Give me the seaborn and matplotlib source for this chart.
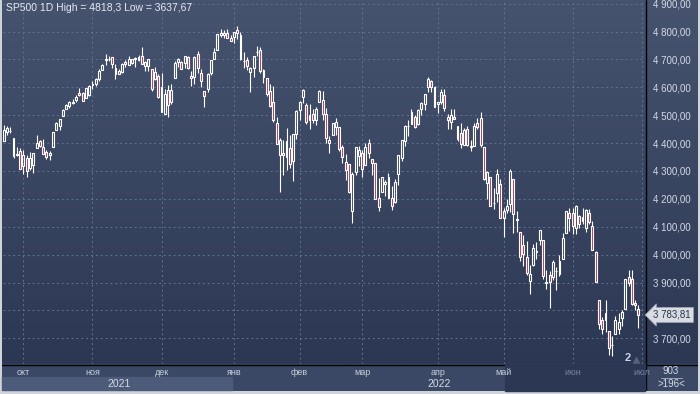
import matplotlib
matplotlib.use('Agg')
import matplotlib.pyplot as plt
import matplotlib.transforms as mtransforms
from matplotlib.colors import LinearSegmentedColormap
from matplotlib.patches import Rectangle
from matplotlib.ticker import MultipleLocator, FuncFormatter
import numpy as np
import pandas as pd
import seaborn as sns

# daily SP500 candles, 23.09.2021 - 30.06.2022
open_sep = [4406, 4438, 4442, 4419, 4362, 4371]
high_sep = [4465, 4463, 4457, 4419, 4385, 4382]
low_sep = [4406, 4430, 4436, 4346, 4355, 4306]
close_sep = [4448, 4455, 4443, 4352, 4359, 4307]

open_oct = [4317, 4348, 4310, 4320, 4384, 4407, 4385, 4368, 4358, 4386, 4447,
            4463, 4497, 4524, 4532, 4546, 4553, 4579, 4580, 4563, 4573]
high_oct = [4375, 4356, 4369, 4365, 4429, 4412, 4415, 4374, 4372, 4439, 4475,
            4488, 4521, 4540, 4551, 4559, 4572, 4598, 4584, 4598, 4608]
low_oct = [4288, 4278, 4305, 4293, 4384, 4386, 4360, 4342, 4341, 4386, 4447,
           4448, 4496, 4524, 4526, 4541, 4547, 4569, 4551, 4562, 4570]
close_oct = [4357, 4300, 4345, 4363, 4399, 4391, 4361, 4350, 4364, 4438, 4471,
             4486, 4519, 4536, 4549, 4545, 4566, 4574, 4551, 4596, 4605]

open_nov = [4610, 4613, 4631, 4662, 4700, 4701, 4707, 4670, 4659, 4656, 4689,
            4680, 4701, 4700, 4708, 4712, 4678, 4675, 4664, 4628, 4640]
high_nov = [4621, 4635, 4664, 4683, 4718, 4714, 4708, 4685, 4664, 4688, 4697,
            4714, 4701, 4708, 4717, 4743, 4694, 4702, 4664, 4672, 4646]
low_nov = [4595, 4604, 4621, 4662, 4681, 4694, 4670, 4630, 4648, 4650, 4673,
           4680, 4684, 4672, 4694, 4682, 4659, 4659, 4585, 4626, 4560]
close_nov = [4613, 4630, 4660, 4680, 4697, 4701, 4685, 4646, 4649, 4682, 4682,
             4700, 4688, 4704, 4698, 4682, 4690, 4701, 4595, 4655, 4567]

open_dec = [4602, 4504, 4589, 4549, 4632, 4690, 4691, 4687, 4710, 4642, 4637,
            4719, 4652, 4587, 4594, 4650, 4703, 4733, 4795, 4788, 4794, 4776]
high_dec = [4652, 4595, 4608, 4612, 4694, 4705, 4695, 4713, 4711, 4660, 4712,
            4731, 4666, 4587, 4651, 4698, 4740, 4791, 4808, 4804, 4808, 4787]
low_dec = [4510, 4504, 4495, 4540, 4632, 4674, 4665, 4670, 4667, 4606, 4612,
           4651, 4600, 4531, 4583, 4645, 4703, 4733, 4780, 4778, 4775, 4765]
close_dec = [4513, 4577, 4538, 4591, 4686, 4701, 4667, 4712, 4669, 4635, 4710,
             4669, 4621, 4568, 4649, 4697, 4726, 4791, 4786, 4793, 4778, 4766]

open_jan = [4779, 4804, 4788, 4693, 4697, 4655, 4670, 4728, 4733, 4637,
            4632, 4588, 4547, 4471, 4357, 4366, 4409, 4381, 4337, 4432]
high_jan = [4797, 4818.3, 4798, 4725, 4707, 4674, 4714, 4749, 4744, 4665,
            4632, 4611, 4603, 4495, 4418, 4411, 4454, 4428, 4432, 4517]
low_jan = [4759, 4774, 4699, 4671, 4663, 4582, 4638, 4712, 4651, 4614,
           4568, 4531, 4475, 4395, 4223, 4287, 4305, 4309, 4264, 4414]
close_jan = [4797, 4793, 4701, 4696, 4677, 4670, 4713, 4726, 4660, 4663,
             4577, 4533, 4483, 4398, 4410, 4357, 4350, 4326, 4432, 4516]

open_feb = [4519, 4567, 4535, 4482, 4505, 4481, 4547, 4553, 4506, 4412,
            4429, 4456, 4456, 4385, 4332, 4324, 4155, 4298, 4355]
high_feb = [4550, 4595, 4542, 4540, 4521, 4531, 4590, 4588, 4527, 4427,
            4473, 4489, 4456, 4394, 4362, 4326, 4295, 4385, 4388]
low_feb = [4484, 4544, 4470, 4451, 4471, 4465, 4547, 4484, 4402, 4365,
           4429, 4430, 4373, 4327, 4268, 4221, 4115, 4286, 4317]
close_feb = [4546, 4590, 4477, 4501, 4484, 4522, 4587, 4504, 4419, 4402,
             4472, 4475, 4380, 4349, 4305, 4226, 4288, 4385, 4374]

open_mar = [4364, 4323, 4401, 4342, 4327, 4202, 4224, 4253, 4279, 4203, 4188, 4288,
            4345, 4407, 4462, 4470, 4493, 4470, 4523, 4541, 4602, 4624, 4600]
high_mar = [4375, 4401, 4416, 4342, 4327, 4276, 4278, 4268, 4292, 4247, 4271, 4358,
            4412, 4465, 4481, 4522, 4501, 4521, 4546, 4575, 4637, 4627, 4604]
low_mar = [4279, 4323, 4345, 4284, 4199, 4157, 4224, 4209, 4202, 4161, 4187, 4251,
           4335, 4390, 4425, 4469, 4455, 4466, 4501, 4517, 4582, 4582, 4530]
close_mar = [4306, 4387, 4364, 4329, 4201, 4171, 4278, 4260, 4204, 4173, 4262, 4358,
             4412, 4463, 4461, 4512, 4456, 4520, 4543, 4575, 4631, 4602, 4530]

open_apr = [4541, 4547, 4572, 4494, 4474, 4494, 4463, 4437, 4394, 4449,
            4385, 4390, 4473, 4490, 4386, 4256, 4279, 4187, 4222, 4253]
high_apr = [4549, 4593, 4594, 4503, 4521, 4521, 4463, 4471, 4453, 4460,
            4411, 4471, 4489, 4513, 4386, 4300, 4279, 4240, 4308, 4270]
low_apr = [4507, 4541, 4514, 4450, 4450, 4487, 4408, 4381, 4392, 4390,
           4371, 4390, 4452, 4385, 4268, 4200, 4175, 4163, 4188, 4132]
close_apr = [4546, 4583, 4525, 4481, 4500, 4488, 4413, 4397, 4447, 4392,
             4391, 4463, 4459, 4394, 4272, 4297, 4175, 4184, 4288, 4132]

open_may = [4131, 4159, 4181, 4270, 4128, 4082, 4035, 3990, 3904, 3963, 4013,
            4052, 4051, 3900, 3927, 3920, 3942, 3929, 3985, 4078, 4151]
high_may = [4169, 4200, 4308, 4271, 4158, 4082, 4069, 4049, 3964, 4039, 4047,
            4090, 4051, 3946, 3943, 3981, 3955, 3999, 4076, 4158, 4169]
low_may = [4062, 4148, 4152, 4078, 4082, 3976, 3958, 3928, 3859, 3958, 3984,
           4034, 3912, 3877, 3810, 3909, 3875, 3925, 3985, 4078, 4084]
close_may = [4155, 4175, 4300, 4147, 4123, 3991, 4001, 3936, 3930, 4024, 4008,
             4088, 3923, 3901, 3901, 3974, 3941, 3979, 4058, 4158, 4132]

open_jun = [4149, 4096, 4137, 4134, 4097, 4148, 4101, 4010, 3838, 3764, 3765,
            3728, 3675, 3715, 3733, 3774, 3806, 3920, 3913, 3826, 3805]
high_jun = [4166, 4177, 4143, 4169, 4165, 4164, 4120, 4012, 3838, 3778, 3838,
            3728, 3707, 3779, 3790, 3802, 3913, 3946, 3946, 3837, 3818]
low_jun = [4073, 4074, 4097, 4109, 4081, 4110, 4017, 3901, 3735, 3715, 3723,
           3640, 3637.67, 3715, 3717, 3743, 3806, 3889, 3821, 3800, 3738]
close_jun = [4101, 4176, 4109, 4121, 4161, 4116, 4018, 3901, 3750, 3735, 3790,
             3667, 3675, 3765, 3760, 3796, 3912, 3900, 3822, 3819, 3783.81]

opens = open_sep + open_oct + open_nov + open_dec + open_jan + open_feb + open_mar + open_apr + open_may + open_jun
highs = high_sep + high_oct + high_nov + high_dec + high_jan + high_feb + high_mar + high_apr + high_may + high_jun
lows = low_sep + low_oct + low_nov + low_dec + low_jan + low_feb + low_mar + low_apr + low_may + low_jun
closes = close_sep + close_oct + close_nov + close_dec + close_jan + close_feb + close_mar + close_apr + close_may + close_jun

holidays = ['2021-11-25', '2021-12-24', '2022-01-17', '2022-02-21',
            '2022-04-15', '2022-05-30', '2022-06-20']
month_names = ['янв', 'фев', 'мар', 'апр', 'май', 'июн',
               'июл', 'авг', 'сен', 'окт', 'ноя', 'дек']
ticker = 'SP500 1D'
bar_count = '903'
visible_bars = '>196<'

dates = pd.bdate_range('2021-09-23', '2022-06-30', freq='C', holidays=holidays)
df = pd.DataFrame({'date': dates[:len(closes)], 'open': opens, 'high': highs,
                   'low': lows, 'close': closes})
df['i'] = np.arange(len(df))
df['up'] = df['close'] >= df['open']
df['top'] = df[['open', 'close']].max(axis=1)
df['bot'] = df[['open', 'close']].min(axis=1)

sns.set_theme(style='dark')
plt.rcParams['font.family'] = ['Liberation Sans', 'DejaVu Sans']

W, H = 700, 394


def px(x0, y0, x1, y1):
    return [x0 / W, 1 - y1 / H, (x1 - x0) / W, (y1 - y0) / H]


fig = plt.figure(figsize=(7, 3.94), dpi=100, facecolor='#cfd3da')

# background (gradient panel + bottom strip)
bg = fig.add_axes(px(2, 0, 698, 391))
bg.set_xlim(2, 698)
bg.set_ylim(391, 0)
bg.axis('off')
cmap = LinearSegmentedColormap.from_list('bg', ['#46536f', '#2c3853'])
bg.imshow(np.linspace(0, 1, 256).reshape(-1, 1), cmap=cmap, aspect='auto',
          extent=[2, 698, 364, 0])
bg.add_patch(Rectangle((2, 364), 696, 27, color='#3a4866'))
bg.plot([645.5, 645.5], [0, 391], color='black', lw=1)
bg.plot([2, 698], [364.5, 364.5], color='black', lw=1)
bg.text(671, 371, bar_count, color='#d5dae3', fontsize=7, ha='center', va='center')
bg.plot([661, 682], [377.5, 377.5], color='#aab3c4', lw=0.6)
bg.text(671, 384, visible_bars, color='#d5dae3', fontsize=7, ha='center', va='center')
bg.text(628, 358, '2', color='#c4d6f2', fontsize=8, fontweight='bold', ha='center', va='center')
bg.plot([636], [360], marker='^', color='#56627a', ms=4)

# main chart
ax = fig.add_axes(px(3, 0, 645, 364))
ax.set_facecolor('none')
ax.set_zorder(2)

up = df[df['up']]
dn = df[~df['up']]
red = '#b3304f'
ax.vlines(df['i'], df['top'], df['high'], color='white', lw=0.8, zorder=3)
ax.vlines(df['i'], df['low'], df['bot'], color='white', lw=0.8, zorder=3)
ax.bar(up['i'], (up['top'] - up['bot']).clip(lower=0.5), bottom=up['bot'], width=0.58,
       facecolor='none', edgecolor='white', linewidth=0.8, zorder=4)
ax.bar(dn['i'], (dn['top'] - dn['bot']).clip(lower=0.5), bottom=dn['bot'], width=0.58,
       facecolor=red, edgecolor='white', linewidth=0.8, zorder=4)

x_right = 195
ax.set_xlim(-0.2, x_right)
ax.set_ylim(3608, 4913)
for s in ax.spines.values():
    s.set_visible(False)

ax.yaxis.tick_right()
ax.yaxis.set_major_locator(MultipleLocator(100))
ax.yaxis.set_major_formatter(FuncFormatter(
    lambda v, _: f'{v:,.2f}'.replace(',', ' ').replace('.', ',')))
ax.tick_params(axis='y', length=0, pad=6, labelsize=7, labelcolor='#d5dae3')

# month ticks at the first trading day of every month
per = df['date'].dt.to_period('M')
starts = df.groupby(per)['i'].first()
mstart = list(starts.values[1:]) + [len(df)]
mlabels = [month_names[p.month - 1] for p in starts.index[1:]] + \
          [month_names[starts.index[-1].month % 12]]
ax.set_xticks(mstart)
ax.set_xticklabels(mlabels)
ax.tick_params(axis='x', length=0, pad=3, labelsize=6.5, labelcolor='#c9cfda')
window_start = df.index[df['date'] == pd.Timestamp('2022-05-03')][0]
for t, pos in zip(ax.get_xticklabels(), mstart):
    if pos > window_start:
        t.set_color('#7a86a0')

ax.grid(True, color='#62718f', lw=0.7, ls=(0, (2, 3)))
ax.set_xlabel('')
ax.set_ylabel('')

# year strip
trans = mtransforms.blended_transform_factory(ax.transData, ax.transAxes)
y2022 = df.index[df['date'].dt.year == 2022][0]
ax.add_patch(Rectangle((df['i'].iloc[0] - 0.4, -0.0714), y2022 - 0.2, 0.0357,
                       transform=trans, color='#4b5b79', clip_on=False, zorder=0.1))
ax.add_patch(Rectangle((window_start - 0.5, -0.0742), x_right + 0.5 - window_start, 0.0742,
                       transform=trans, color='#2b3753', clip_on=False, zorder=0.1))
ax.text((df['i'].iloc[0] + y2022) / 2, -0.054, '2021', transform=trans,
        color='#d5dae3', fontsize=7.5, ha='center', va='center')
ax.text((y2022 + x_right) / 2, -0.054, '2022', transform=trans,
        color='#d5dae3', fontsize=7.5, ha='center', va='center')

# title
hi = df['high'].max()
lo = df['low'].min()
ax.text(0.004, 0.992, f'{ticker} High = {hi:g} Low = {lo:g}'.replace('.', ','),
        transform=ax.transAxes, color='#e6e9ef', fontsize=7.5, ha='left', va='top')

# last price tag
last = df['close'].iloc[-1]
ptrans = mtransforms.blended_transform_factory(ax.transAxes, ax.transData)
ax.text(1.013, last, f'{last:,.2f}'.replace(',', ' ').replace('.', ','), transform=ptrans,
        color='#27324a', fontsize=7, ha='left', va='center', zorder=6,
        bbox=dict(boxstyle='larrow,pad=0.25', facecolor='#d9dce2', edgecolor='#9aa3b4', lw=0.6))

fig.savefig('out.png', dpi=100, facecolor=fig.get_facecolor())
